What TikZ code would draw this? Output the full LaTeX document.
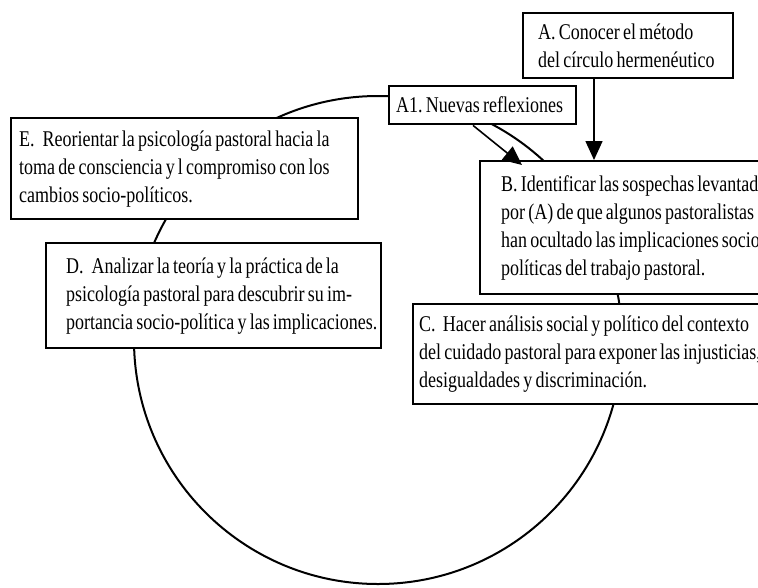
\documentclass[tikz,border=0pt]{standalone}
\usepackage{fontspec}
\usepackage{graphicx}
\setmainfont{Liberation Serif}
\usetikzlibrary{arrows.meta}
\protected\def\boxfont{\fontsize{22.5}{28}\selectfont}
\newcommand\sqz[1]{\scalebox{0.8}[1]{\spaceskip=4pt plus 1pt\relax\xspaceskip=4pt plus 1pt\relax #1}}
\tikzset{
  box/.style={draw, line width=2.4pt, fill=white, anchor=north west, align=left,
    font=\boxfont, inner ysep=0pt},
  arr/.style={line width=1.6pt, -{Triangle[length=19pt,width=17pt]}},
  ring/.style={line width=2pt}
}
\begin{document}
\begin{tikzpicture}[x=1pt,y=-1pt]
\useasboundingbox (0,0) rectangle (758,587);
\clip (0,0) rectangle (758,587);
\draw[ring] (378,340) circle[radius=244pt];
\node[box, minimum height=65pt, text width=180pt, inner xsep=15pt] (A) at (522,12)
  {\sqz{A. Conocer el método}\\\sqz{del círculo hermenéutico}};
\node[box, minimum height=38pt, text width=173pt, inner xsep=7pt] (A1) at (388,85)
  {\sqz{A1. Nuevas reflexiones}};
\node[box, minimum height=133pt, text width=258pt, inner xsep=21pt] (B) at (479,160)
  {\sqz{B. Identificar las sospechas levantadas}\\\sqz{por (A) de que algunos pastoralistas}\\\sqz{han ocultado las implicaciones socio-}\\\sqz{políticas del trabajo pastoral.}};
\node[box, minimum height=100pt, text width=348pt, inner xsep=6pt] (C) at (412,303)
  {\sqz{C.\hspace{9pt}Hacer análisis social y político del contexto}\\\sqz{del cuidado pastoral para exponer las injusticias,}\\\sqz{desigualdades y discriminación.}};
\node[box, minimum height=105pt, text width=295pt, inner xsep=20pt] (D) at (45,242)
  {\sqz{D.\hspace{10pt}Analizar la teoría y la práctica de la}\\\sqz{psicología pastoral para descubrir su im-}\\\sqz{portancia socio-política y las implicaciones.}};
\node[box, minimum height=101pt, text width=331pt, inner xsep=8pt] (E) at (10,117)
  {\sqz{E.\hspace{10pt}Reorientar la psicología pastoral hacia la}\\\sqz{toma de consciencia y l compromiso con los}\\\sqz{cambios socio-políticos.}};
\draw[arr] ([xshift=72pt]A.south west) -- ([xshift=115pt]B.north west);
\draw[arr] ([xshift=85pt]A1.south west) -- ([xshift=43pt,yshift=-5pt]B.north west);
\end{tikzpicture}
\end{document}
